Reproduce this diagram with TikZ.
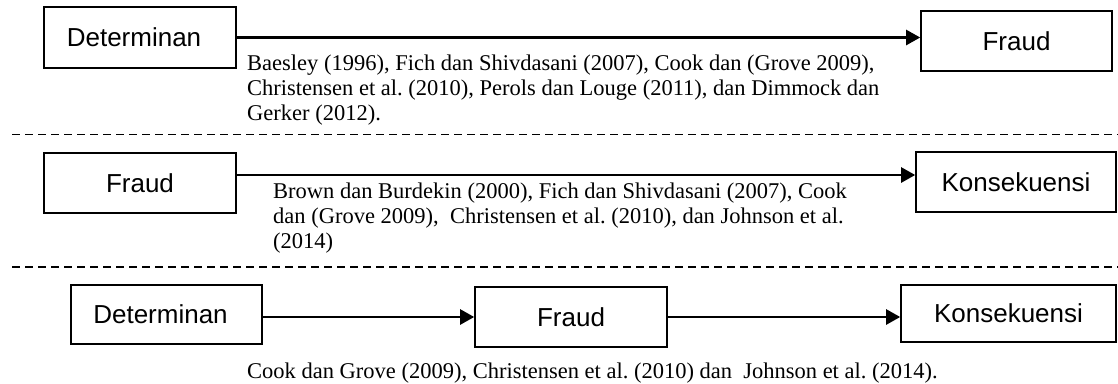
\documentclass[tikz,border=0pt]{standalone}
\usepackage{fontspec}
\setmainfont{Liberation Serif}
\setsansfont{Liberation Sans}
\usetikzlibrary{arrows.meta}
\frenchspacing
\begin{document}
\begin{tikzpicture}[x=1pt,y=-1pt,
  box/.style={draw,line width=1.6pt,inner sep=0pt,font=\sffamily\fontsize{26}{30}\selectfont},
  cite/.style={anchor=base west,inner sep=0pt,font=\frenchspacing\fontsize{22.5}{25}\selectfont},
  link/.style={line width=2.4pt,-{Triangle[length=14pt,width=15pt]}},
  sep/.style={line width=1.5pt,dash pattern=on 7.5pt off 5.5pt}]
\useasboundingbox (0,0) rectangle (1118,383);
\clip (0,0) rectangle (1118,383);

% Row 1
\node[box,minimum width=192pt,minimum height=61pt] (d1) at (140,37.5) {\kern-12pt Determinan};
\node[box,minimum width=191pt,minimum height=60pt] (f1) at (1016.5,41) {Fraud};
\draw[link] (d1.east) -- (d1.east -| f1.west);
\node[cite] (t1a) at (247,70) {Baesley (1996), Fich dan Shivdasani (2007), Cook dan (Grove 2009),};
\node[cite] (t1b) at (247,95) {Christensen et al. (2010), Perols dan Louge (2011), dan Dimmock dan};
\node[cite] (t1c) at (247,120) {Gerker (2012).};

\coordinate (s1a) at (12,134.5);
\coordinate (s1b) at (1118,134.5);
\draw[sep] (s1a) -- (s1b);

% Row 2
\node[box,minimum width=192pt,minimum height=60pt] (f2) at (140,183) {Fraud};
\node[box,minimum width=200pt,minimum height=60pt] (k2) at (1016,182) {Konsekuensi};
\draw[link] ([yshift=8pt]f2.east) -- ([yshift=8pt]f2.east -| k2.west);
\node[cite] (t2a) at (273,198) {Brown dan Burdekin (2000), Fich dan Shivdasani (2007), Cook};
\node[cite] (t2b) at (273,223) {dan (Grove 2009),\ \ Christensen et al. (2010), dan Johnson et al.};
\node[cite] (t2c) at (273,248) {(2014)};

\coordinate (s2a) at (12,267);
\coordinate (s2b) at (1118,267);
\draw[sep] (s2a) -- (s2b);

% Row 3
\node[box,minimum width=191pt,minimum height=59pt] (d3) at (166.5,314.5) {\kern-12pt Determinan};
\node[box,minimum width=192pt,minimum height=60pt] (f3) at (571,317) {Fraud};
\node[box,minimum width=215pt,minimum height=57pt] (k3) at (1008.5,313.5) {Konsekuensi};
\draw[link] (d3.east |- f3.west) -- (f3.west);
\draw[link] (f3.east) -- (f3.east -| k3.west);
\node[cite] (t3) at (247,378) {Cook dan Grove (2009), Christensen et al. (2010) dan\ \ Johnson et al. (2014).};
\end{tikzpicture}
\end{document}
